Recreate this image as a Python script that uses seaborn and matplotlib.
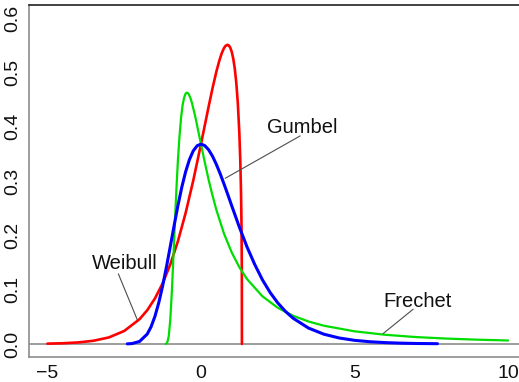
import pandas as pd
import seaborn as sns
import matplotlib.pyplot as plt

# Density values
gumbel_x = [-2.4, -2.25, -2.0, -1.75, -1.625, -1.5, -1.375, -1.25, -1.125, -1.0, -0.875,
            -0.75, -0.625, -0.5, -0.375, -0.25, -0.125, 0.0, 0.125, 0.25, 0.375, 0.5,
            0.625, 0.75, 0.875, 1.0, 1.25, 1.5, 1.75, 2.0, 2.25, 2.5, 2.75, 3.0, 3.5,
            4.0, 4.5, 5.0, 5.5, 6.0, 6.5, 7.0, 7.7]
gumbel_y = [0.0002, 0.0007, 0.0046, 0.0182, 0.0316, 0.0507, 0.0758, 0.1065, 0.1416,
            0.1794, 0.2178, 0.2549, 0.2885, 0.3170, 0.3396, 0.3556, 0.3649, 0.3679,
            0.3651, 0.3574, 0.3457, 0.3307, 0.3134, 0.2945, 0.2748, 0.2546, 0.2151,
            0.1785, 0.1464, 0.1182, 0.0949, 0.0756, 0.0600, 0.0474, 0.0293, 0.0180,
            0.0110, 0.0067, 0.0041, 0.0025, 0.0015, 0.0009, 0.0005]

weibull_x = [-5.0, -4.5, -4.0, -3.5, -3.0, -2.5, -2.0, -1.75, -1.5, -1.25, -1.0, -0.75,
             -0.5, -0.25, 0.0, 0.25, 0.375, 0.5, 0.6, 0.68, 0.75, 0.8, 0.86, 0.9, 0.95,
             1.0, 1.05, 1.1, 1.15, 1.2, 1.25, 1.28, 1.3, 1.31, 1.32, 1.33, 1.333]
weibull_y = [0.0006, 0.0013, 0.0028, 0.0059, 0.0120, 0.0239, 0.0456, 0.0621, 0.0837,
             0.1113, 0.1463, 0.1893, 0.2411, 0.3012, 0.3679, 0.4372, 0.4705, 0.5011,
             0.5221, 0.5358, 0.5447, 0.5488, 0.5507, 0.5499, 0.5460, 0.5382, 0.5256,
             0.5072, 0.4807, 0.4432, 0.3872, 0.3373, 0.2903, 0.2584, 0.2150, 0.1357,
             0.0]

frechet_x = [-1.15, -1.1, -1.05, -1.0, -0.95, -0.9, -0.85, -0.8, -0.75, -0.7, -0.65,
             -0.6, -0.55, -0.5, -0.45, -0.4, -0.35, -0.3, -0.2, -0.15, -0.1, 0.0, 0.1,
             0.25, 0.375, 0.5, 0.75, 1.0, 1.25, 1.5, 2.0, 2.5, 3.0, 3.5, 4.0, 5.0, 6.0,
             7.0, 8.0, 9.0, 10.0]
frechet_y = [0.0001, 0.0022, 0.0140, 0.0443, 0.0943, 0.157, 0.2228, 0.285, 0.3389,
             0.382, 0.4154, 0.439, 0.4532, 0.461, 0.4628, 0.460, 0.4537, 0.445, 0.422,
             0.409, 0.395, 0.368, 0.3407, 0.302, 0.2734, 0.247, 0.203, 0.1686, 0.1412,
             0.1194, 0.0878, 0.0666, 0.0519, 0.0414, 0.0336, 0.0233, 0.0169, 0.0127,
             0.0099, 0.0079, 0.0064]

x_ticks = [-5, 0, 5, 10]
y_ticks = [0.0, 0.1, 0.2, 0.3, 0.4, 0.5, 0.6]
y_tick_labels = ['0.0', '0.1', '0.2', '0.3', '0.4', '0.5', '0.6']

# label text centre and pointer (start -> end) in data units
labels = ['Gumbel', 'Weibull', 'Frechet']
label_pos = [(3.31, 0.398), (-2.49, 0.149), (7.04, 0.079)]
pointer = [((3.23, 0.383), (0.79, 0.305)),
           ((-2.69, 0.129), (-2.07, 0.044)),
           ((6.91, 0.064), (5.93, 0.019))]

sns.set_style('white')
plt.rcParams['font.family'] = ['Liberation Sans', 'DejaVu Sans']

fig = plt.figure(figsize=(5.19, 3.82), dpi=100)
ax = fig.add_axes([29 / 519, 25 / 382, 497.5 / 519, 352 / 382])

ax.axhline(0, color='0.55', lw=1.2, zorder=1)

# estimator=None so repeated x values are not averaged
sns.lineplot(x=weibull_x, y=weibull_y, sort=False, estimator=None,
             color='#ff0000', lw=1.9, ax=ax)
sns.lineplot(x=frechet_x, y=frechet_y, sort=False, estimator=None,
             color='#00dd00', lw=1.6, ax=ax)
sns.lineplot(x=gumbel_x, y=gumbel_y, sort=False, estimator=None,
             color='#0000ff', lw=2.2, ax=ax)

for name, (tx, ty), (p0, p1) in zip(labels, label_pos, pointer):
    ax.text(tx, ty, name, ha='center', va='center', fontsize=14.5, color='#111111')
    ax.plot([p0[0], p1[0]], [p0[1], p1[1]], color='0.3', lw=0.8)

ax.set_xlim(-5.6, 10.6)
ax.set_ylim(-0.024, 0.624)
ax.set_xticks(x_ticks)
ax.set_yticks(y_ticks)
ax.set_yticklabels(y_tick_labels, rotation=90, va='center')
ax.tick_params(direction='out', length=3.5, width=1, color='0.5',
               labelsize=14, pad=2, labelcolor='#111111')

ax.spines['right'].set_visible(False)
ax.spines['top'].set_color('#222222')
ax.spines['left'].set_color('0.55')
ax.spines['bottom'].set_color('0.55')
for s in ['top', 'left', 'bottom']:
    ax.spines[s].set_linewidth(1.2)

fig.savefig('out.png', dpi=100)
